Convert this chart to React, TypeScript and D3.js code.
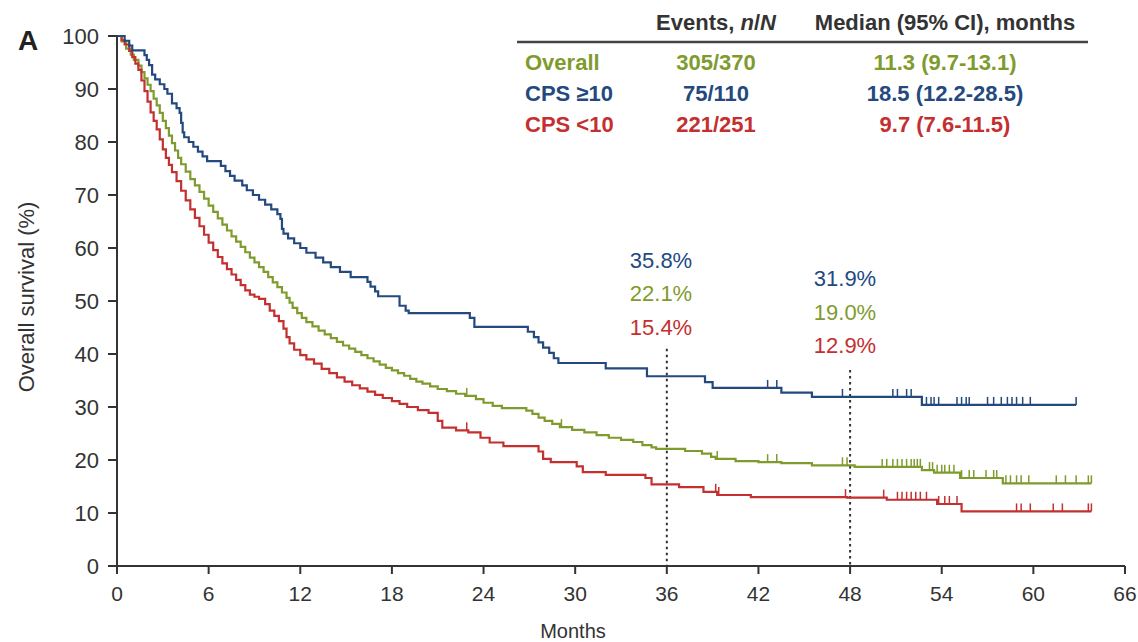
import React from "react";
import * as d3 from "d3";

type Pt = [number, number];

// ---------- data ----------
const xTicks = [0, 6, 12, 18, 24, 30, 36, 42, 48, 54, 60, 66];
const yTicks = [0, 10, 20, 30, 40, 50, 60, 70, 80, 90, 100];

const seriesNames = ["Overall", "CPS \u226510", "CPS <10"];
const eventsCol = ["305/370", "75/110", "221/251"];
const medianCol = ["11.3 (9.7-13.1)", "18.5 (12.2-28.5)", "9.7 (7.6-11.5)"];

const landmarkTimes = [36, 48];
const landmark36 = ["35.8%", "22.1%", "15.4%"]; // CPS>=10, Overall, CPS<10
const landmark48 = ["31.9%", "19.0%", "12.9%"];

// step points: [month, survival %] (value holds from that month on)
const overallSteps: Pt[] = [
  [0, 100], [0.3, 99], [0.6, 97.6], [0.9, 96.5], [1.1, 95.5], [1.4, 94.4], [1.6, 93.2], [1.8, 92],
  [2.0, 90.8], [2.2, 89.6], [2.4, 88.2], [2.6, 86.9], [2.8, 85.5], [3.0, 84], [3.2, 82.6], [3.4, 81.2],
  [3.6, 79.8], [3.8, 78.4], [4.0, 77], [4.2, 75.8], [4.5, 74.4], [4.8, 73], [5.1, 71.8], [5.4, 70.6],
  [5.7, 69.3], [6.0, 68], [6.3, 66.8], [6.6, 65.6], [6.9, 64.4], [7.2, 63.3], [7.5, 62.2], [7.8, 61.2],
  [8.1, 60.2], [8.4, 59.2], [8.7, 58.2], [9.0, 57.3], [9.3, 56.4], [9.6, 55.5], [9.9, 54.5], [10.2, 53.5],
  [10.5, 52.6], [10.8, 51.6], [11.1, 50.6], [11.3, 49.7], [11.5, 48.7], [11.8, 47.7], [12.1, 46.8],
  [12.4, 46.0], [12.8, 45.2], [13.2, 44.4], [13.6, 43.7], [14.0, 43.0], [14.4, 42.3], [14.8, 41.6],
  [15.2, 41.0], [15.6, 40.4], [16.0, 39.8], [16.4, 39.2], [16.8, 38.6], [17.2, 38.0], [17.6, 37.4],
  [18.0, 36.9], [18.4, 36.4], [18.8, 35.9], [19.2, 35.3], [19.6, 34.8], [20.0, 34.4], [20.5, 33.9],
  [21.0, 33.4], [21.6, 33.0], [22.2, 32.5], [22.8, 32.1], [23.5, 31.5], [24.0, 30.8], [24.6, 30.2],
  [25.2, 29.8], [26.8, 29.3], [27.2, 28.7], [27.6, 28.0], [28.0, 27.4], [28.5, 26.8], [29.0, 26.2],
  [29.8, 25.7], [30.6, 25.2], [31.4, 24.7], [32.2, 24.2], [33.0, 23.8], [33.8, 23.4], [34.4, 22.8],
  [35.0, 22.4], [35.3, 22.1], [37.2, 21.7], [38.3, 21.2], [38.9, 20.6], [39.2, 20.2], [40.5, 19.8],
  [42.0, 19.6], [43.5, 19.4], [45.5, 19.0], [48.3, 18.7], [52.7, 18.1], [53.5, 17.6], [55.2, 16.6],
  [58.0, 15.6],
];
const overallEnd = 63.8;
const overallCensor = [
  22.9, 29.1, 39.3, 42.6, 43.2, 47.5, 47.8, 50.1, 50.4, 50.8, 51.1, 51.4, 51.7, 52.0, 52.2, 52.4, 52.6,
  53.2, 53.4, 53.7, 54.0, 54.2, 54.5, 54.8, 55.3, 55.8, 56.1, 56.9, 57.4, 57.6, 58.2, 58.5, 58.9, 59.2,
  59.7, 61.5, 62.1, 62.8, 63.6, 63.8,
];

const cpsHighSteps: Pt[] = [
  [0, 100], [0.5, 99.1], [0.8, 98.2], [1.0, 97.3], [1.8, 96.4], [1.95, 95.5], [2.1, 94.5], [2.3, 92.7],
  [2.5, 91.8], [2.8, 90.9], [3.1, 90], [3.3, 89.1], [3.6, 87.3], [3.9, 86.4], [4.1, 85.5], [4.2, 83.6],
  [4.3, 81.8], [4.4, 80.9], [4.7, 80], [5.0, 79.1], [5.3, 78.2], [5.6, 77.3], [5.9, 76.4], [6.8, 75.5],
  [7.1, 74.5], [7.4, 73.6], [7.7, 72.7], [8.2, 71.8], [8.5, 70.9], [8.9, 70], [9.3, 69.1], [9.7, 68.2],
  [10.1, 67.3], [10.5, 66.4], [10.7, 65.5], [10.8, 63.6], [10.9, 62.7], [11.2, 61.8], [11.6, 60.9],
  [12.0, 60], [12.4, 59.1], [13.0, 58.2], [13.5, 57.3], [14.0, 56.4], [14.6, 55.5], [15.3, 54.5],
  [16.4, 53.6], [16.6, 52.7], [16.9, 51.8], [17.1, 50.9], [18.5, 49.1], [18.9, 48.2], [19.1, 47.7],
  [23.1, 46.8], [23.4, 45.1], [26.9, 44.2], [27.3, 43.2], [27.6, 42.2], [27.9, 41.2], [28.3, 40.2],
  [28.6, 39.2], [28.9, 38.3], [32.0, 37.3], [34.7, 35.8], [38.5, 34.7], [39.0, 33.6], [43.5, 32.7],
  [45.5, 31.9], [52.7, 30.4],
];
const cpsHighEnd = 62.8;
const cpsHighCensor = [
  42.6, 43.2, 47.5, 50.8, 51.1, 51.7, 52.0, 53.0, 53.3, 53.5, 53.8, 55.0, 55.3, 55.6, 55.8, 57.0, 57.4,
  57.9, 58.3, 58.6, 58.9, 59.3, 59.8, 62.8,
];

const cpsLowSteps: Pt[] = [
  [0, 100], [0.3, 99.2], [0.5, 98.4], [0.8, 97.2], [1.0, 96], [1.2, 94.8], [1.4, 93.6], [1.6, 91.6],
  [1.8, 89.6], [2.0, 87.6], [2.2, 85.6], [2.4, 84], [2.6, 82.4], [2.8, 80.5], [3.0, 78.6], [3.2, 77],
  [3.4, 75.7], [3.6, 74.3], [3.9, 72.6], [4.2, 70.8], [4.5, 69], [4.8, 67.3], [5.1, 65.7], [5.4, 64.1],
  [5.7, 62.5], [6.0, 61.0], [6.3, 59.6], [6.6, 58.3], [6.9, 57.1], [7.2, 56.0], [7.5, 55.0], [7.8, 54.0],
  [8.1, 53.0], [8.4, 52.0], [8.7, 51.2], [9.0, 50.8], [9.3, 50.4], [9.7, 49.4], [10.0, 48.2],
  [10.3, 47.2], [10.6, 46.2], [10.9, 44.8], [11.1, 43.2], [11.3, 42.0], [11.6, 40.8], [12.0, 39.8],
  [12.4, 39.0], [12.9, 38.2], [13.4, 37.2], [13.9, 36.4], [14.4, 35.6], [14.9, 34.8], [15.4, 34.1],
  [15.9, 33.5], [16.4, 32.9], [16.9, 32.3], [17.4, 31.7], [18.0, 31.1], [18.5, 30.6], [19.0, 30.0],
  [19.7, 29.4], [20.4, 28.9], [21.0, 27.4], [21.3, 26.1], [22.2, 25.6], [23.0, 25.2], [23.8, 24.2],
  [24.4, 23.3], [25.3, 22.6], [27.6, 21.6], [27.9, 20.2], [28.4, 19.6], [30.1, 18.8], [30.5, 17.7],
  [32.0, 17.2], [34.6, 16.6], [35.0, 15.4], [36.8, 14.9], [38.4, 14.0], [39.3, 13.4], [41.5, 13.0],
  [47.8, 12.9], [50.4, 12.5], [53.7, 11.7], [55.3, 10.3],
];
const cpsLowEnd = 63.8;
const cpsLowCensor = [
  22.9, 39.2, 39.4, 47.7, 50.2, 51.1, 51.4, 51.7, 52.0, 52.3, 52.6, 53.0, 53.8, 54.2, 54.5, 55.0, 58.9,
  59.2, 59.8, 61.3, 61.9, 63.6, 63.8,
];

// ---------- styling ----------
const GREEN = "#7f9b2e";
const BLUE = "#23497f";
const RED = "#c42f2f";
const AXIS = "#333333";
const FONT = "Arial, 'Liberation Sans', Helvetica, sans-serif";

const W = 1138;
const H = 642;

const x = d3.scaleLinear().domain([0, 66]).range([117, 1125]);
const y = d3.scaleLinear().domain([0, 100]).range([566, 36]);

function survAt(steps: Pt[], t: number): number {
  let s = steps[0][1];
  for (const p of steps) {
    if (p[0] <= t + 1e-9) s = p[1];
    else break;
  }
  return s;
}

const stepLine = d3
  .line<Pt>()
  .x((d) => x(d[0]))
  .y((d) => y(d[1]))
  .curve(d3.curveStepAfter);

type Series = { steps: Pt[]; end: number; censor: number[]; color: string };
const seriesList: Series[] = [
  { steps: overallSteps, end: overallEnd, censor: overallCensor, color: GREEN },
  { steps: cpsLowSteps, end: cpsLowEnd, censor: cpsLowCensor, color: RED },
  { steps: cpsHighSteps, end: cpsHighEnd, censor: cpsHighCensor, color: BLUE },
];

export default function App() {
  const rowColors = [GREEN, BLUE, RED];
  const rowBase = [70, 101, 132];
  const lm36Colors = [BLUE, GREEN, RED];
  const lm36Base = [268, 301, 335];
  const lm48Base = [286, 320, 353];
  const dashTop = [41, 37];

  return (
    <svg
      width={W}
      height={H}
      style={{ position: "absolute", left: 0, top: 0, background: "#fff" }}
      fontFamily={FONT}
    >
      {/* panel letter */}
      <text x={18} y={50} fontSize={28} fontWeight="bold" fill="#222">
        A
      </text>

      {/* landmark dotted lines */}
      {landmarkTimes.map((t, i) => (
        <line
          key={"lm" + t}
          x1={x(t)}
          x2={x(t)}
          y1={y(dashTop[i])}
          y2={y(0)}
          stroke={AXIS}
          strokeWidth={2}
          strokeDasharray="2.5,3.5"
        />
      ))}

      {/* curves */}
      {seriesList.map((s, i) => {
        const pts: Pt[] = [...s.steps, [s.end, s.steps[s.steps.length - 1][1]]];
        return (
          <g key={"s" + i}>
            <path d={stepLine(pts) || ""} fill="none" stroke={s.color} strokeWidth={2.2} />
            {s.censor.map((c, j) => (
              <line
                key={j}
                x1={x(c)}
                x2={x(c)}
                y1={y(survAt(s.steps, c))}
                y2={y(survAt(s.steps, c)) - 8}
                stroke={s.color}
                strokeWidth={1.5}
              />
            ))}
          </g>
        );
      })}

      {/* y axis */}
      <line x1={x(0)} x2={x(0)} y1={y(0)} y2={y(100)} stroke={AXIS} strokeWidth={2} />
      {yTicks.map((v) => (
        <g key={"yt" + v}>
          <line x1={x(0) - 9} x2={x(0)} y1={y(v)} y2={y(v)} stroke={AXIS} strokeWidth={2} />
          <text
            x={x(0) - 18}
            y={y(v)}
            textAnchor="end"
            dominantBaseline="central"
            fontSize={22}
            fill="#333"
          >
            {v}
          </text>
        </g>
      ))}
      <text
        transform={`translate(26,297) rotate(-90)`}
        textAnchor="middle"
        dominantBaseline="central"
        fontSize={22}
        fill="#333"
      >
        Overall survival (%)
      </text>

      {/* x axis */}
      <line x1={x(0)} x2={x(66)} y1={y(0)} y2={y(0)} stroke={AXIS} strokeWidth={2} />
      {xTicks.map((v) => (
        <g key={"xt" + v}>
          <line x1={x(v)} x2={x(v)} y1={y(0)} y2={y(0) + 8} stroke={AXIS} strokeWidth={2} />
          <text x={x(v)} y={601} textAnchor="middle" fontSize={21} fill="#333">
            {v}
          </text>
        </g>
      ))}
      <text x={573} y={638} textAnchor="middle" fontSize={20} fill="#333">
        Months
      </text>

      {/* landmark labels */}
      {landmark36.map((s, i) => (
        <text key={"a" + i} x={661} y={lm36Base[i]} textAnchor="middle" fontSize={22} fill={lm36Colors[i]}>
          {s}
        </text>
      ))}
      {landmark48.map((s, i) => (
        <text key={"b" + i} x={845} y={lm48Base[i]} textAnchor="middle" fontSize={22} fill={lm36Colors[i]}>
          {s}
        </text>
      ))}

      {/* table */}
      <text x={716} y={30} textAnchor="middle" fontSize={22} fontWeight="bold" fill="#333">
        Events, <tspan fontStyle="italic">n</tspan>/<tspan fontStyle="italic">N</tspan>
      </text>
      <text x={945} y={30} textAnchor="middle" fontSize={22} fontWeight="bold" fill="#333">
        Median (95% CI), months
      </text>
      <line x1={517} x2={1088} y1={42} y2={42} stroke="#444" strokeWidth={2.5} />
      {seriesNames.map((n, i) => (
        <g key={"r" + i} fill={rowColors[i]} fontSize={22} fontWeight="bold">
          <text x={525} y={rowBase[i]}>
            {n}
          </text>
          <text x={716} y={rowBase[i]} textAnchor="middle">
            {eventsCol[i]}
          </text>
          <text x={945} y={rowBase[i]} textAnchor="middle">
            {medianCol[i]}
          </text>
        </g>
      ))}
    </svg>
  );
}
